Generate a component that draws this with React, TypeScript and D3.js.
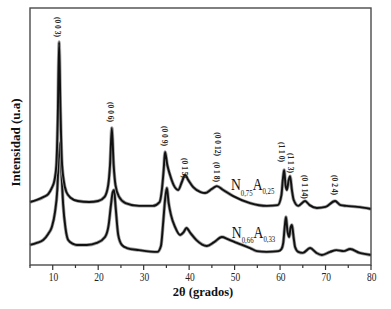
import React from "react";
import * as d3 from "d3";

// 2θ (degrees) and intensity (arbitrary units)
const upperTheta = [5.0, 6.5, 8.0, 9.0, 9.8, 10.4, 10.8, 11.1, 11.4, 11.7, 12.0, 12.4, 13.0, 14.0, 15.5, 18.0, 20.0, 21.4, 22.2, 22.6, 23.0, 23.4, 23.8, 24.6, 26.0, 29.0, 32.0, 33.5, 34.0, 34.4, 34.7, 35.2, 35.8, 36.6, 37.6, 38.4, 39.1, 39.8, 40.9, 42.5, 43.5, 45.0, 46.1, 47.5, 49.7, 53.4, 57.1, 59.5, 60.3, 60.6, 60.9, 61.2, 61.5, 61.9, 62.2, 62.6, 63.0, 64.0, 65.5, 66.5, 68.1, 70.0, 72.1, 73.3, 74.6, 77.0, 80.0];
const upperIntensity = [245, 253, 265, 276, 300, 331, 389, 564, 868, 603, 409, 331, 284, 261, 249, 245, 249, 265, 311, 389, 533, 389, 311, 265, 241, 230, 230, 245, 292, 370, 440, 389, 350, 311, 292, 323, 350, 331, 303, 284, 280, 296, 307, 292, 268, 241, 230, 233, 272, 331, 370, 311, 292, 331, 346, 292, 253, 230, 249, 233, 222, 226, 249, 233, 230, 226, 218];

const lowerTheta = [5.0, 6.5, 7.9, 9.0, 9.8, 10.5, 11.0, 11.3, 11.6, 11.9, 12.3, 12.8, 13.4, 14.5, 15.3, 17.5, 19.7, 21.5, 22.3, 22.8, 23.2, 23.5, 23.8, 24.4, 25.2, 26.3, 29.0, 33.0, 33.8, 34.3, 34.7, 35.1, 35.5, 36.0, 36.9, 38.0, 38.8, 39.4, 40.3, 41.6, 43.9, 45.5, 47.2, 48.5, 50.5, 53.4, 54.9, 57.0, 59.6, 60.3, 60.7, 61.0, 61.3, 61.6, 62.0, 62.3, 62.6, 63.0, 63.3, 64.0, 65.0, 66.6, 68.0, 69.2, 71.0, 72.4, 74.0, 75.4, 77.5, 80.0];
const lowerIntensity = [78, 86, 97, 121, 148, 206, 292, 409, 475, 370, 233, 144, 97, 82, 78, 78, 86, 109, 156, 233, 284, 292, 233, 117, 78, 66, 58, 51, 74, 167, 253, 300, 241, 195, 148, 117, 128, 144, 124, 97, 74, 89, 109, 101, 86, 66, 54, 51, 54, 62, 86, 144, 187, 136, 109, 144, 156, 105, 70, 51, 47, 66, 47, 39, 51, 58, 54, 62, 47, 39];

// peak indexing labels
const peakLabels = ["(0 0 3)", "(0 0 6)", "(0 0 9)", "(0 1 5)", "(0 1 8)", "(0 0 12)", "(1 1 0)", "(1 1 3)", "(0 1 14)", "(0 2 4)"];
const peakTheta = [11.0, 22.8, 34.7, 39.1, 46.1, 46.3, 60.4, 62.3, 65.5, 72.1];
const peakLabelTop = [965, 634, 541, 416, 401, 517, 479, 436, 350, 350];

const xTicks = [10, 20, 30, 40, 50, 60, 70, 80];
const xMinorTicks = [5, 15, 25, 35, 45, 55, 65, 75];

const FONT = "'Liberation Serif', 'Times New Roman', serif";

export default function App() {
  const W = 391, H = 309;
  const left = 30, right = 371, top = 8, bottom = 265;
  const x = d3.scaleLinear().domain([5, 80]).range([left, right]);
  const y = d3.scaleLinear().domain([0, 1000]).range([bottom, top]);

  const line = d3
    .line<[number, number]>()
    .x((d) => x(d[0]))
    .y((d) => y(d[1]))
    .curve(d3.curveMonotoneX);

  const upper = line(upperTheta.map((t, i) => [t, upperIntensity[i]] as [number, number])) || "";
  const lower = line(lowerTheta.map((t, i) => [t, lowerIntensity[i]] as [number, number])) || "";

  return (
    <svg
      width={W}
      height={H}
      style={{ position: "absolute", left: 0, top: 0, background: "#fff" }}
      fontFamily={FONT}
    >
      <rect x={0} y={0} width={W} height={H} fill="#fff" />
      {/* curves */}
      {[lower, upper].map((d, i) => (
        <g key={i}>
          <path d={d} fill="none" stroke="#a0a0a0" strokeWidth={3.4} strokeLinejoin="round" />
          <path d={d} fill="none" stroke="#111" strokeWidth={1.9} strokeLinejoin="round" />
        </g>
      ))}
      {/* frame */}
      <rect x={left} y={top} width={right - left} height={bottom - top} fill="none" stroke="#4a4a4a" strokeWidth={1.4} />
      {/* ticks */}
      {xTicks.map((t) => (
        <g key={"t" + t}>
          <line x1={x(t)} x2={x(t)} y1={bottom} y2={bottom + 5} stroke="#333" strokeWidth={1.2} />
          <text
            transform={`translate(${x(t) + 0.8},${280.5}) scale(0.7,1)`}
            textAnchor="middle"
            fontSize={13.5}
            fill="#222"
          >
            {t}
          </text>
        </g>
      ))}
      {xMinorTicks.map((t) => (
        <line key={"m" + t} x1={x(t)} x2={x(t)} y1={bottom} y2={bottom + 3} stroke="#333" strokeWidth={1.2} />
      ))}
      {/* axis titles */}
      <text x={203} y={295.5} textAnchor="middle" fontSize={12.5} fontWeight="bold" fill="#111">
        2θ (grados)
      </text>
      <text
        transform="translate(15,142.5) rotate(-90)"
        textAnchor="middle"
        dy="0.35em"
        fontSize={13}
        fontWeight="bold"
        fill="#111"
      >
        Intensidad (u.a)
      </text>
      {/* peak labels */}
      {peakLabels.map((lab, i) => (
        <text
          key={lab}
          transform={`translate(${x(peakTheta[i])},${y(peakLabelTop[i])}) rotate(90)`}
          dy="0.35em"
          fontSize={7.5}
          fontWeight="bold"
          fill="#222"
        >
          {lab}
        </text>
      ))}
      {/* sample labels */}
      <text transform={`translate(${x(49.2)},190) scale(0.85,1)`} fill="#111">
        <tspan fontSize={16}>N</tspan>
        <tspan fontSize={8} dy={5.5}>0,75</tspan>
        <tspan fontSize={16} dy={-5.5}>A</tspan>
        <tspan fontSize={8} dy={3.5}>0,25</tspan>
      </text>
      <text transform={`translate(${x(49.4)},238.3) scale(0.85,1)`} fill="#111">
        <tspan fontSize={16}>N</tspan>
        <tspan fontSize={8} dy={5}>0,66</tspan>
        <tspan fontSize={16} dy={-5}>A</tspan>
        <tspan fontSize={8} dy={3.5}>0,33</tspan>
      </text>
    </svg>
  );
}
